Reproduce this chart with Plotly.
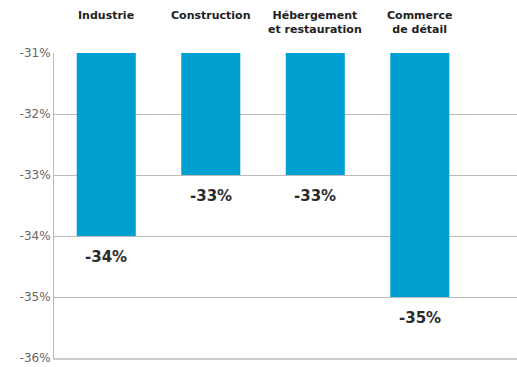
import plotly.graph_objects as go

categories = ["Industrie", "Construction", "Hébergement<br>et restauration", "Commerce<br>de détail"]
values = [-34, -33, -33, -35]
value_labels = ["-34%", "-33%", "-33%", "-35%"]
base_value = -31
y_ticks = [-36, -35, -34, -33, -32, -31]
y_tick_labels = ["-36%", "-35%", "-34%", "-33%", "-32%", "-31%"]

x_idx = list(range(len(categories)))
FONT = "DejaVu Sans, Noto Sans, sans-serif"

fig = go.Figure()
fig.add_trace(go.Bar(
    x=x_idx,
    y=[v - base_value for v in values],
    base=base_value,
    width=0.565,
    marker=dict(color="#009fd1", line=dict(width=0)),
    hoverinfo="skip",
))

annotations = []
for i, (v, lab) in enumerate(zip(values, value_labels)):
    annotations.append(dict(
        x=i, y=v, xref="x", yref="y", text="<b>" + lab + "</b>", showarrow=False,
        yanchor="middle", yshift=-21,
        font=dict(family=FONT, size=15, color="#2b2b2b"),
    ))
for i, c in enumerate(categories):
    annotations.append(dict(
        x=i, y=1, xref="x", yref="paper", text="<b>" + c + "</b>", showarrow=False,
        yanchor="top", yshift=46,
        font=dict(family=FONT, size=11, color="#222222"),
    ))

fig.update_layout(
    width=517, height=367,
    margin=dict(l=54, r=0, t=53, b=9),
    paper_bgcolor="white", plot_bgcolor="white",
    showlegend=False,
    annotations=annotations,
    xaxis=dict(
        range=[-0.5, 3.93], showticklabels=False, showgrid=False, zeroline=False,
        showline=True, linecolor="#cccccc", linewidth=2, ticks="",
    ),
    yaxis=dict(
        range=[-36, -31], tickvals=y_ticks, ticktext=y_tick_labels,
        showgrid=True, gridcolor="#bbbbbb", gridwidth=1, zeroline=False,
        showline=True, linecolor="#bbbbbb", linewidth=1, ticks="",
        tickfont=dict(family=FONT, size=12, color="#666666"),
    ),
)

fig.write_html(
    "out.html",
    config={"displayModeBar": False},
    post_script="document.body.style.margin='0';document.body.style.overflow='hidden';",
)
